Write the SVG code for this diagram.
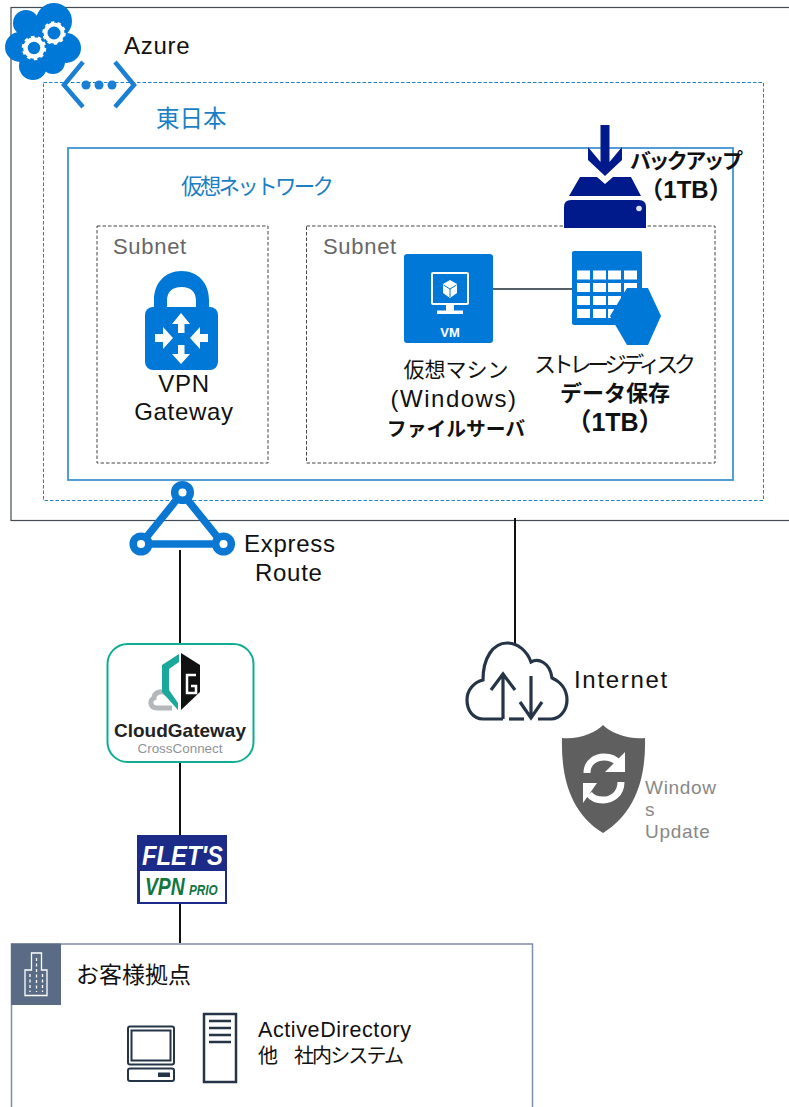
<svg xmlns="http://www.w3.org/2000/svg" width="789" height="1107" viewBox="0 0 789 1107">
<style>
text{font-family:"Liberation Sans","Noto Sans CJK JP",sans-serif;fill:#111}
.c{text-anchor:middle}
.l{font-size:24px;letter-spacing:.7px}
.b{font-weight:700;font-size:22px}
.blue{fill:#1b7fc4}
.sub{font-size:22px;letter-spacing:.7px;fill:#666}
.az{fill:#0078d7}
.conn{stroke:#111;stroke-width:2;fill:none}
.dash{fill:none;stroke:#444;stroke-width:1;stroke-dasharray:3.500 2}
.ink{fill:none;stroke:#253447;stroke-width:3.200}
.logo{font-weight:700;font-style:italic}
</style>
<rect width="789" height="1107" fill="#fff"/>
<g id="azure-frame"><rect x="11" y="7.500" width="790" height="513" fill="none" stroke="#444c55" stroke-width="1.200"/><text x="124" y="54" class="l">Azure</text></g>
<g id="region"><rect x="43.500" y="82.500" width="720" height="418" fill="none" stroke="#1b84c8" stroke-width="1" stroke-dasharray="3.500 2"/><text x="156" y="127" class="blue" style="font-size:23.500px">東日本</text></g>
<g id="vnet"><rect x="68" y="148" width="665" height="332" fill="none" stroke="#3f94d2" stroke-width="1.800"/><text x="181" y="194" class="blue" style="font-size:21.500px" textLength="153">仮想ネットワーク</text></g>
<g id="subnet-1"><rect x="97" y="226" width="171" height="237" class="dash"/><text x="113" y="254" class="sub">Subnet</text></g>
<g id="subnet-2"><rect x="306.500" y="226" width="408.500" height="237" class="dash"/><text x="323" y="254" class="sub">Subnet</text></g>
<g id="connectors">
<line x1="180" y1="550" x2="180" y2="943" class="conn"/>
<line x1="515" y1="518" x2="515" y2="646" class="conn"/>
<line x1="493" y1="289" x2="573" y2="289" stroke="#555f68" stroke-width="2"/>
</g>
<g id="azure-cloud">
<g class="az"><circle cx="26" cy="23" r="13"/><circle cx="54" cy="21" r="18"/><circle cx="66" cy="48" r="15"/><circle cx="20" cy="47" r="15"/><circle cx="33" cy="66" r="14"/><circle cx="53" cy="62" r="12"/><circle cx="42" cy="42" r="22"/></g>
<circle cx="54" cy="33" r="8.500" fill="none" stroke="#fff" stroke-width="4"/>
<circle cx="54" cy="33" r="10" fill="none" stroke="#fff" stroke-width="3.500" stroke-dasharray="3.200 3.080"/>
<circle cx="34" cy="48" r="8.500" fill="none" stroke="#fff" stroke-width="4.500"/>
<circle cx="34" cy="48" r="10.500" fill="none" stroke="#fff" stroke-width="3.500" stroke-dasharray="3.400 3.200"/>
</g>
<g id="vnet-icon">
<path d="M83 62L64 85L83 107M115 62L134 85L115 107" fill="none" stroke="#1a80d6" stroke-width="4.500"/>
<circle cx="86" cy="85" r="4.500" fill="#1a80d6"/><circle cx="99" cy="85" r="4.500" fill="#1a80d6"/><circle cx="112" cy="85" r="4.500" fill="#1a80d6"/>
</g>
<g id="backup" fill="#001a8c">
<path d="M600.500 125H609.500V162L622 147V160L605 176L588 160V147L600.500 162Z"/>
<path d="M580 177H597L605 184L613 177H631L641 196H569Z"/>
<path d="M564 228V207Q564 200 571 200H639Q646 200 646 207V228Z"/>
<circle cx="639" cy="208.500" r="2.800" fill="#dfe3f2"/>
<text x="630" y="168" class="b" style="font-size:21px" textLength="113">バックアップ</text>
<text x="686" y="198" class="b c" style="font-size:24px">（1TB）</text>
</g>
<g id="vm">
<rect x="404" y="254" width="89" height="89" rx="3" class="az"/>
<rect x="432" y="273" width="36" height="31" rx="1" fill="none" stroke="#fff" stroke-width="2"/>
<path d="M450 280L457 284V293L450 298L443 293V284Z" fill="#fff"/>
<path d="M450 289V297M443.500 285L450 289L456.500 285" stroke="#0078d7" fill="none"/>
<path d="M446 305H454V310.500H463V314H437V310.500H446Z" fill="#fff"/>
<text x="450" y="337" class="c" style="font-size:13px;font-weight:700;fill:#fff">VM</text>
<text class="c"><tspan x="456" y="377" style="font-size:21px">仮想マシン</tspan><tspan x="454" y="407" style="font-size:24px;letter-spacing:1.500px">(Windows)</tspan><tspan x="456" y="436" style="font-size:19.800px;font-weight:700">ファイルサーバ</tspan></text>
</g>
<g id="storage">
<rect x="572" y="251" width="70" height="74" rx="2" class="az"/>
<g fill="#fff"><path d="M577 270.500h13v9h-13zM593 270.500h13v9h-13zM608 270.500h13v9h-13zM624 270.500h13v9h-13zM577 283h13v9h-13zM593 283h13v9h-13zM608 283h13v9h-13zM624 283h13v9h-13zM577 296h13v9h-13zM593 296h13v9h-13zM608 296h13v9h-13zM577 309h13v9h-13zM593 309h13v9h-13zM608 309h13v9h-13z"/></g>
<path d="M610 316L627 288H648L661 316L648 345H627Z" class="az"/>
<text x="615" y="372" class="c" style="font-size:22px" textLength="162">ストレージディスク</text>
<text class="c"><tspan x="615" y="401" style="font-size:22px;font-weight:700">データ保存</tspan><tspan x="615" y="431" style="font-size:25px;font-weight:700">（1TB）</tspan></text>
</g>
<g id="vpn-gateway">
<path d="M154 312V300C154 283 165 271 181.500 271C198 271 209 283 209 300V312H196V301C196 292 191 287 181.500 287C172 287 167 292 167 301V312Z" class="az"/>
<rect x="145" y="307" width="73" height="63" rx="8" class="az"/>
<g fill="#fff">
<path d="M181 313L190 324H184.500V333H178V324H172Z"/>
<path d="M181 364L172 354H178V345H184.500V354H190Z"/>
<path d="M173 338L163 349V342H155V334H163V327Z"/>
<path d="M190 338L200 327V334H208V342H200V349Z"/>
</g>
<text class="c l"><tspan x="184" y="392">VPN</tspan><tspan x="184" y="420">Gateway</tspan></text>
</g>
<g id="express-route">
<path d="M182 493L141 544H223Z" fill="none" stroke="#0a78d2" stroke-width="7.500"/>
<circle cx="182.500" cy="492.500" r="7.800" fill="#fff" stroke="#0a78d2" stroke-width="7.500"/>
<circle cx="141" cy="544" r="7.800" fill="#fff" stroke="#0a78d2" stroke-width="7.500"/>
<circle cx="223.500" cy="544" r="7.800" fill="#fff" stroke="#0a78d2" stroke-width="7.500"/>
<text class="l"><tspan x="244" y="552">Express</tspan><tspan x="255" y="581">Route</tspan></text>
</g>
<g id="cloudgateway">
<rect x="107.500" y="644" width="146" height="118" rx="20" fill="#fff" stroke="#10ad93" stroke-width="2"/>
<path d="M172 708H157C150 708 149 700 154 698C154 692 162 690 167 694" fill="none" stroke="#b5b8ba" stroke-width="5"/>
<path d="M179 654L162 665V692L178 710V703L169 690V669L179 662Z" fill="#1aa89a"/>
<path d="M181 653L200 665V692L181 710Z" fill="#111"/>
<path d="M196 675H187V693H196V686H191" fill="none" stroke="#fff" stroke-width="2.500"/>
<text x="114" y="737" style="font-size:19px;font-weight:700;fill:#222" textLength="132" lengthAdjust="spacingAndGlyphs">CloudGateway</text>
<text x="137.500" y="753" style="font-size:12.500px;fill:#8f9396" textLength="85" lengthAdjust="spacingAndGlyphs">CrossConnect</text>
</g>
<g id="flets">
<rect x="137" y="835" width="90" height="69" fill="#1c2a88"/>
<rect x="140" y="871" width="85" height="31" fill="#fff"/>
<text x="142" y="865" class="logo" style="font-size:28px;fill:#fff" textLength="81" lengthAdjust="spacingAndGlyphs">FLET'S</text>
<text transform="translate(145 895) scale(.84 1)" class="logo" style="fill:#14753f"><tspan style="font-size:23px">VPN</tspan><tspan dx="5" style="font-size:14px">PRIO</tspan></text>
</g>
<g id="internet">
<path d="M503 719H483C473 719 467 710 467 700C467 690 474 682 483 680C483 658 493 643 507 643C518 643 527 651 531 662C538 658 550 662 552 678C561 682 567 690 567 700C567 710 560 719 551 719H538" class="ink"/>
<path d="M509 719H524" class="ink"/>
<path d="M503 719V674M491 690L503 674L515 690M531 676V718M520 702L531 718L542 702" class="ink"/>
<text x="574" y="688" class="l" style="letter-spacing:1.700px">Internet</text>
</g>
<g id="windows-update">
<path d="M603 725C596 733 577 740 562 738C561 775 569 812 603 833C637 812 646 775 645 738C630 740 610 733 603 725Z" fill="#5f5f5f"/>
<g fill="none" stroke="#fff" stroke-width="7"><path d="M587 773C587 762 596 757 604 757C610 757 615 759 618 763"/><path d="M621 782C621 794 612 800 603 800C597 800 592 798 589 794"/></g>
<path d="M625 752V772H605ZM583 803V783H597Z" fill="#fff"/>
<text style="font-size:19px;letter-spacing:.7px;fill:#888"><tspan x="645" y="794">Window</tspan><tspan x="645" y="816">s</tspan><tspan x="645" y="838">Update</tspan></text>
</g>
<g id="customer-site">
<rect x="11.500" y="944" width="521" height="180" fill="#fff" stroke="#7f8da6" stroke-width="1.500"/>
<rect x="11" y="943.500" width="50" height="61.500" fill="#5a6b85"/>
<path d="M31.500 970V953H41.500V970H47V995.500H25V970Z" fill="none" stroke="#fff" stroke-width="1.300"/>
<path d="M30 974V992M36.500 958V992M42.500 974V992" stroke="#fff" stroke-width="1.300" stroke-dasharray="3 2.500" fill="none"/>
<text x="76" y="983" style="font-size:23px">お客様拠点</text>
<rect x="128" y="1026.500" width="46" height="38" rx="2" fill="none" stroke="#253447" stroke-width="2"/>
<rect x="131.500" y="1030.500" width="39" height="30" fill="none" stroke="#253447" stroke-width="2"/>
<rect x="128" y="1068.500" width="46" height="12.500" rx="2" fill="none" stroke="#253447" stroke-width="2"/>
<rect x="158" y="1072.500" width="12" height="4.500" fill="#253447"/>
<rect x="204" y="1014" width="32" height="68" fill="none" stroke="#253447" stroke-width="2.500"/>
<path d="M209 1021H231M209 1028H231M209 1035H231M209 1042H231" stroke="#253447" stroke-width="2.500"/>
<text x="258" y="1037" style="font-size:21.500px;letter-spacing:.6px">ActiveDirectory</text>
<text style="font-size:20px"><tspan x="258" y="1063">他</tspan><tspan x="294" y="1063" textLength="110">社内システム</tspan></text>
</g>
</svg>
